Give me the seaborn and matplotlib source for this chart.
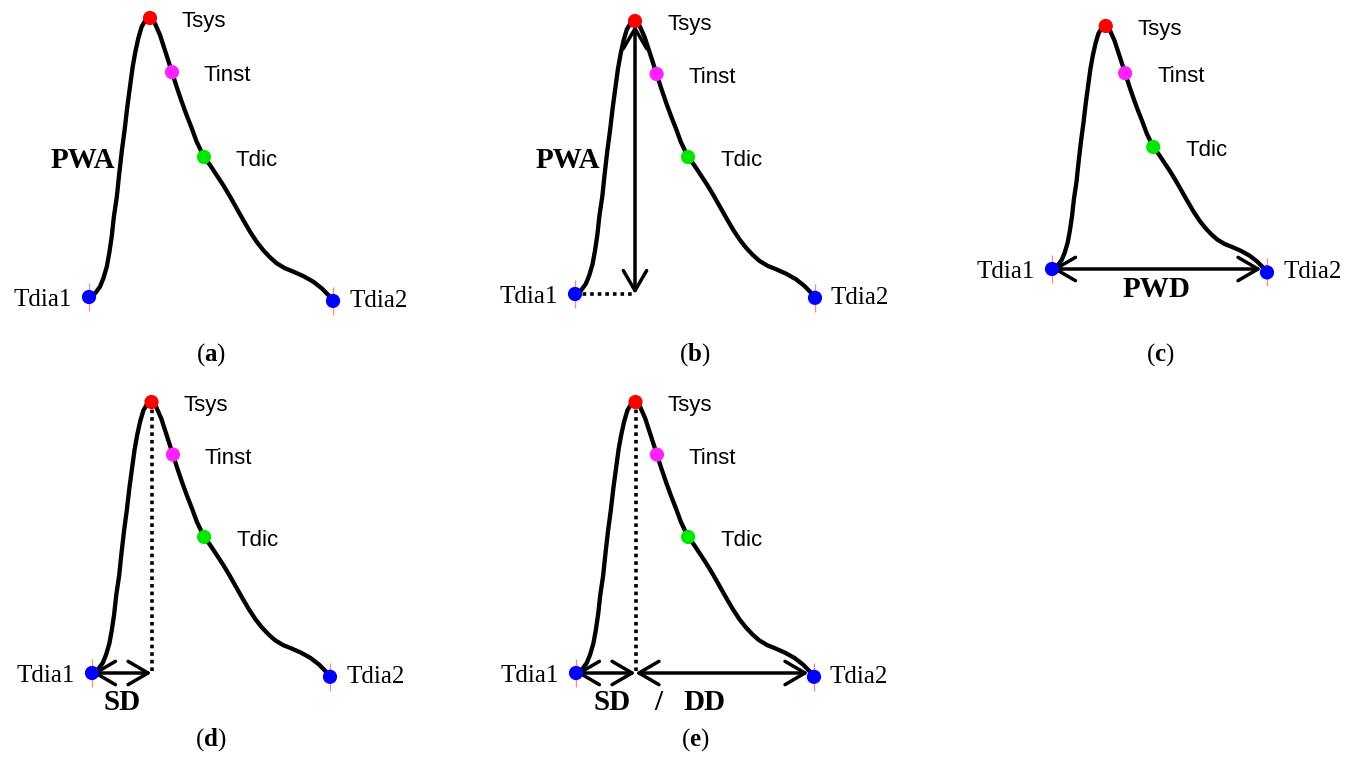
import matplotlib
matplotlib.use("Agg")
import matplotlib.pyplot as plt
import numpy as np
import pandas as pd
import seaborn as sns

# Normalised pulse waveform: time 0 = Tdia1 ... 1 = Tdia2, amplitude 0 = diastolic foot, 1 = systolic peak
wave_t = [0.000, 0.025, 0.045, 0.059, 0.073, 0.083, 0.093, 0.102, 0.114, 0.124,
          0.135, 0.146, 0.157, 0.168, 0.179, 0.190, 0.202, 0.216, 0.230, 0.240,
          0.250, 0.260, 0.270, 0.291, 0.311, 0.340, 0.359, 0.380, 0.400, 0.421,
          0.441, 0.471, 0.496, 0.523, 0.550, 0.578, 0.605, 0.632, 0.660, 0.687,
          0.714, 0.742, 0.769, 0.803, 0.837, 0.878, 0.919, 0.954, 0.981, 1.000]
wave_amp = [0.000, 0.013, 0.037, 0.067, 0.109, 0.157, 0.216, 0.288, 0.359, 0.443,
            0.527, 0.599, 0.682, 0.754, 0.825, 0.879, 0.927, 0.969, 0.990, 0.997,
            1.000, 0.994, 0.981, 0.939, 0.885, 0.806, 0.754, 0.700, 0.652, 0.605,
            0.557, 0.502, 0.473, 0.437, 0.401, 0.360, 0.318, 0.276, 0.234, 0.198,
            0.168, 0.142, 0.121, 0.103, 0.091, 0.075, 0.055, 0.031, 0.007, -0.014]

# Fiducial points on the waveform
fid_names = ["Tdia1", "Tsys", "Tinst", "Tdic", "Tdia2"]
fid_t = [0.0, 0.25, 0.34, 0.471, 1.0]
fid_amp = [0.0, 1.0, 0.806, 0.502, -0.014]
fid_colors = ["#0000ff", "#ff0000", "#ff22ff", "#00e600", "#0000ff"]

panel_letters = ["a", "b", "c", "d", "e"]

sns.set_style("white")
plt.rcParams["font.family"] = ["Liberation Sans", "DejaVu Sans"]
plt.rcParams["text.color"] = "black"
plt.rcParams["mathtext.fontset"] = "custom"
plt.rcParams["mathtext.rm"] = "Liberation Serif"
plt.rcParams["mathtext.bf"] = "Liberation Serif:bold"

W, H = 1351, 781
fig = plt.figure(figsize=(W / 100, H / 100), dpi=100)
fig.patch.set_facecolor("white")

# Pixel boxes of each panel: (x of Tdia1, x of Tdia2, y of baseline, y of peak)
boxes = {
    "a": (89, 333, 297, 18),
    "b": (575, 815, 294, 21),
    "c": (1052, 1267, 269, 26),
    "d": (92, 330, 673, 402),
    "e": (576, 814, 673, 402),
}
captions = {"a": (211, 355), "b": (695, 355), "c": (1160, 355),
            "d": (211, 740), "e": (695, 740)}

XL, XR, YB, YT = -0.3, 1.3, -0.3, 1.2

wave = pd.DataFrame({"t": wave_t, "amp": wave_amp})
fid = pd.DataFrame({"name": fid_names, "t": fid_t, "amp": fid_amp})
palette = dict(zip(fid_names, fid_colors))

serif = ["Liberation Serif", "DejaVu Serif"]
sans = ["Liberation Sans", "DejaVu Sans"]


def make_axes(key):
    x0, x1, yb, yt = boxes[key]
    w, h = x1 - x0, yb - yt
    left = x0 + XL * w
    bottom_px = yb - YB * h
    ax = fig.add_axes([left / W, 1 - bottom_px / H, (XR - XL) * w / W, (YT - YB) * h / H])
    ax.set_xlim(XL, XR)
    ax.set_ylim(YB, YT)
    ax.set_axis_off()
    ax.patch.set_alpha(0)
    return ax


def draw_wave(ax):
    sns.lineplot(data=wave, x="t", y="amp", ax=ax, color="black", lw=3.1,
                 estimator=None, sort=False, zorder=2,
                 solid_joinstyle="round", solid_capstyle="round")
    ends = fid[fid["name"].str.startswith("Tdia")]
    ax.plot(ends["t"], ends["amp"], ls="none", marker="|", ms=20, mew=1.0,
            color="#ff8a8a", zorder=2.5)
    sns.scatterplot(data=fid, x="t", y="amp", hue="name", palette=palette, s=105,
                    linewidth=0, ax=ax, legend=False, zorder=3)
    for name, t, a in zip(fid_names, fid_t, fid_amp):
        if name == "Tdia1":
            ax.annotate(name, (t, a), xytext=(-17, -9), textcoords="offset pixels",
                        ha="right", va="baseline", fontsize=18, family=serif)
        elif name == "Tdia2":
            ax.annotate(name, (t, a), xytext=(16, -6), textcoords="offset pixels",
                        ha="left", va="baseline", fontsize=18, family=serif)
        else:
            ax.annotate(name, (t, a), xytext=(32, -9), textcoords="offset pixels",
                        ha="left", va="baseline", fontsize=16, family=sans)


def arrow(ax, p0, p1, sa=0, sb=0):
    ax.annotate("", xy=p1, xytext=p0,
                arrowprops=dict(arrowstyle="<->,head_length=0.72,head_width=0.42",
                                lw=2.5, color="black", mutation_scale=20,
                                shrinkA=sa, shrinkB=sb), zorder=2.2)


def bold_label(ax, text, t, a, ha="center"):
    ax.text(t, a, text, ha=ha, va="center", fontsize=21, fontweight="bold",
            family=serif)


t_sys, a_sys = fid_t[1], fid_amp[1]
dotted = dict(color="black", lw=2.6, ls=(0, (1, 1.1)), zorder=1.8)

for key in panel_letters:
    ax = make_axes(key)
    draw_wave(ax)
    if key in ("a", "b"):
        bold_label(ax, "PWA", 0.106, 0.49, ha="right")
    if key == "b":
        arrow(ax, (t_sys, 0.0), (t_sys, a_sys), sa=0, sb=3)
        ax.plot([fid_t[0], t_sys], [0.0, 0.0], **dotted)
    if key == "c":
        arrow(ax, (0.0, 0.0), (1.0, 0.0), sa=0, sb=4)
        bold_label(ax, "PWD", 0.484, -0.086)
    if key in ("d", "e"):
        ax.plot([t_sys, t_sys], [a_sys, 0.0], **dotted)
        arrow(ax, (0.0, 0.0), (t_sys, 0.0))
    if key == "d":
        bold_label(ax, "SD", 0.126, -0.11)
    if key == "e":
        arrow(ax, (t_sys, 0.0), (1.0, 0.0), sb=4)
        bold_label(ax, "SD", 0.15, -0.11)
        bold_label(ax, "/", 0.345, -0.11)
        bold_label(ax, "DD", 0.54, -0.11)

    cx, cy = captions[key]
    fig.text(cx / W, 1 - cy / H, "(" + r"$\mathbf{" + key + "}$" + ")",
             ha="center", va="center", fontsize=18, family=serif)

fig.savefig("out.png", dpi=100, facecolor="white")
